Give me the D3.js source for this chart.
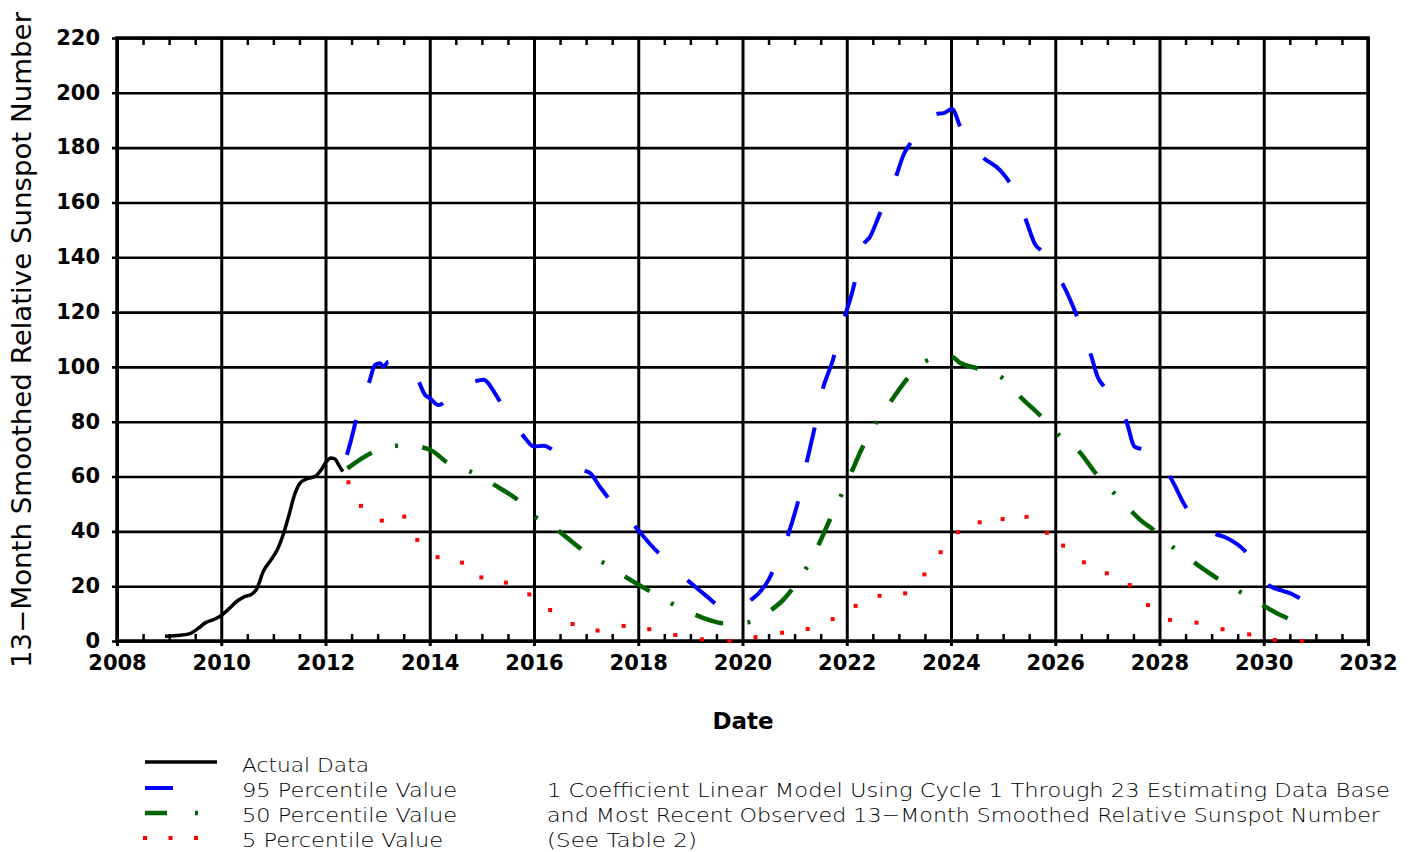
<!DOCTYPE html>
<html>
<head>
<meta charset="utf-8">
<script src="https://cdn.jsdelivr.net/npm/d3@7"></script>
<style>
  html, body { margin: 0; padding: 0; background: #ffffff; }
  svg { display: block; }
  .tick text { font-family: "DejaVu Sans", sans-serif; font-weight: bold; font-size: 21px; fill: #000; }
  .lg { font-family: "DejaVu Sans ExtraLight", "DejaVu Sans", sans-serif; font-weight: 200; font-size: 20px; fill: #000; }
</style>
</head>
<body>
<svg id="chart" width="1419" height="852"></svg>
<script>
// ---------------- data ----------------
const xTicks = [2008, 2010, 2012, 2014, 2016, 2018, 2020, 2022, 2024, 2026, 2028, 2030, 2032];
const yTicks = [0, 20, 40, 60, 80, 100, 120, 140, 160, 180, 200, 220];

// Actual Data (13-month smoothed)
const actualYears = [2008.92, 2009.15, 2009.40, 2009.55, 2009.70, 2009.85, 2010.00, 2010.15, 2010.30, 2010.45, 2010.58, 2010.68, 2010.81, 2010.95, 2011.08, 2011.20, 2011.30, 2011.40, 2011.52, 2011.65, 2011.80, 2011.92, 2012.02, 2012.10, 2012.18, 2012.26, 2012.33];
const actualValues = [1.7, 2.0, 2.7, 4.5, 6.7, 7.8, 9.3, 11.8, 14.5, 16.2, 17.0, 19.0, 25.5, 29.5, 33.5, 39.5, 46.0, 53.0, 57.8, 59.2, 60.0, 62.5, 65.5, 66.8, 66.4, 64.0, 61.8];

// 95 Percentile Value
const p95Years = [2012.41, 2012.50, 2012.59, 2012.70, 2012.84, 2012.95, 2013.05, 2013.11, 2013.21, 2013.45, 2013.60, 2013.74, 2013.91, 2014.00, 2014.17, 2014.45, 2014.71, 2014.84, 2015.03, 2015.26, 2015.45, 2015.66, 2015.85, 2015.99, 2016.18, 2016.45, 2016.78, 2016.95, 2017.08, 2017.27, 2017.50, 2017.75, 2017.94, 2018.23, 2018.50, 2018.75, 2019.05, 2019.31, 2019.65, 2020.01, 2020.15, 2020.31, 2020.50, 2020.65, 2020.81, 2021.03, 2021.12, 2021.20, 2021.36, 2021.44, 2021.51, 2021.74, 2021.84, 2021.94, 2022.14, 2022.22, 2022.31, 2022.45, 2022.64, 2022.80, 2022.94, 2023.09, 2023.22, 2023.45, 2023.72, 2023.86, 2024.02, 2024.18, 2024.40, 2024.61, 2024.94, 2025.12, 2025.28, 2025.43, 2025.62, 2025.75, 2025.95, 2026.14, 2026.43, 2026.56, 2026.69, 2026.81, 2026.97, 2027.17, 2027.37, 2027.52, 2027.70, 2027.95, 2028.19, 2028.50, 2028.75, 2029.02, 2029.30, 2029.63, 2029.85, 2030.06, 2030.38, 2030.51, 2030.69];
const p95Values = [67.9, 74.0, 80.9, 88.0, 94.6, 100.7, 101.3, 100.1, 101.9, 101.0, 99.5, 96.7, 89.8, 88.6, 86.1, 90.5, 93.8, 94.6, 95.3, 90.1, 84.0, 78.5, 73.5, 71.0, 71.2, 68.5, 65.4, 62.4, 61.2, 56.1, 50.5, 45.4, 41.7, 35.3, 30.0, 25.3, 20.5, 16.4, 12.0, 12.5, 14.8, 17.4, 22.3, 28.5, 35.4, 48.4, 55.0, 62.4, 75.8, 82.5, 89.5, 102.9, 110.0, 116.9, 129.9, 137.0, 143.9, 147.6, 156.1, 163.0, 169.2, 177.4, 181.6, 188.0, 192.3, 192.6, 194.1, 187.5, 181.0, 176.5, 171.8, 167.4, 161.0, 154.0, 144.5, 142.1, 136.0, 130.3, 117.8, 111.0, 104.0, 96.5, 92.0, 86.0, 79.8, 70.9, 69.7, 65.0, 60.2, 49.0, 43.0, 39.5, 37.5, 33.0, 27.0, 20.8, 18.2, 17.4, 15.6];

// 50 Percentile Value
const p50Years = [2012.42, 2012.91, 2013.15, 2013.35, 2013.60, 2013.85, 2014.07, 2014.33, 2014.55, 2014.78, 2015.00, 2015.21, 2015.67, 2015.85, 2016.02, 2016.25, 2016.46, 2016.90, 2017.10, 2017.32, 2017.52, 2017.73, 2018.22, 2018.43, 2018.63, 2018.85, 2019.08, 2019.32, 2019.62, 2019.85, 2020.10, 2020.33, 2020.55, 2020.79, 2020.94, 2021.08, 2021.22, 2021.45, 2021.68, 2021.79, 2021.89, 2022.09, 2022.32, 2022.44, 2022.56, 2022.70, 2022.84, 2023.17, 2023.35, 2023.53, 2023.77, 2024.00, 2024.18, 2024.50, 2024.73, 2024.97, 2025.14, 2025.31, 2025.72, 2025.88, 2026.05, 2026.25, 2026.44, 2026.79, 2026.95, 2027.12, 2027.30, 2027.47, 2027.63, 2027.90, 2028.08, 2028.26, 2028.46, 2028.66, 2029.13, 2029.34, 2029.54, 2029.76, 2029.98, 2030.25, 2030.46];
const p50Values = [63.0, 68.9, 70.5, 71.2, 71.3, 70.7, 69.1, 65.2, 63.3, 61.8, 59.8, 57.3, 51.7, 48.7, 45.4, 43.0, 40.3, 33.6, 31.0, 28.7, 26.3, 23.7, 18.2, 16.0, 13.8, 11.6, 9.7, 7.9, 6.5, 6.5, 6.8, 8.5, 11.3, 15.2, 18.6, 22.5, 26.5, 34.7, 44.4, 48.7, 53.0, 61.6, 71.3, 75.5, 79.7, 83.5, 87.3, 95.9, 99.5, 102.2, 103.5, 103.8, 101.4, 99.5, 98.0, 96.2, 93.0, 89.5, 82.1, 79.0, 75.5, 72.5, 69.5, 60.9, 57.5, 54.1, 50.6, 47.2, 44.2, 40.3, 37.2, 34.2, 31.4, 28.7, 22.6, 20.2, 18.0, 15.5, 13.1, 10.1, 8.3];

// 5 Percentile Value
const p5Years = [2012.44, 2012.68, 2013.08, 2013.51, 2013.76, 2014.15, 2014.62, 2014.99, 2015.46, 2015.91, 2016.31, 2016.74, 2017.22, 2017.72, 2018.21, 2018.71, 2019.22, 2019.75, 2020.25, 2020.76, 2021.25, 2021.73, 2022.17, 2022.63, 2023.12, 2023.49, 2023.80, 2024.13, 2024.55, 2024.99, 2025.45, 2025.84, 2026.15, 2026.55, 2026.99, 2027.43, 2027.78, 2028.20, 2028.71, 2029.21, 2029.72, 2030.21, 2030.73];
const p5Values = [57.9, 49.3, 43.9, 45.4, 36.9, 30.6, 28.6, 23.2, 21.3, 17.0, 11.3, 6.2, 3.8, 5.5, 4.3, 2.2, 0.6, 0.0, 1.4, 3.0, 4.4, 8.0, 12.8, 16.5, 17.4, 24.3, 32.4, 39.7, 43.3, 44.5, 45.3, 39.5, 34.8, 28.7, 24.7, 20.4, 13.1, 7.7, 6.7, 4.3, 2.4, 0.4, 0.0];

const legendLabels = ["Actual Data", "95 Percentile Value", "50 Percentile Value", "5 Percentile Value"];
const noteLines = [
  "1 Coefficient Linear Model Using Cycle 1 Through 23 Estimating Data Base",
  "and Most Recent Observed 13\u2212Month Smoothed Relative Sunspot Number",
  "(See Table 2)"
];
const yTitle = "13\u2212Month Smoothed Relative Sunspot Number";
const xTitle = "Date";

// ---------------- layout ----------------
const L = 117, R = 1368, T = 38, B = 641;
const svg = d3.select("#chart");
const x = d3.scaleLinear().domain([2008, 2032]).range([L, R]);
const y = d3.scaleLinear().domain([0, 220]).range([B, T]);

const minorYears = d3.range(2008, 2032.01, 0.5).filter(v => !xTicks.includes(v));

// vertical grid lines (extending slightly below the axis)
const gx = svg.append("g").attr("transform", `translate(0,${B + 5})`)
  .call(d3.axisBottom(x).tickValues(xTicks).tickSize(-(B - T + 5)).tickSizeOuter(0).tickFormat(""));
gx.select(".domain").remove();
gx.selectAll(".tick line").attr("stroke", "#000").attr("stroke-width", 3);

// horizontal grid lines (extending slightly left of the axis)
const gy = svg.append("g").attr("transform", `translate(${L - 5},0)`)
  .call(d3.axisLeft(y).tickValues(yTicks).tickSize(-(R - L + 5)).tickSizeOuter(0).tickFormat(""));
gy.select(".domain").remove();
gy.selectAll(".tick line").attr("stroke", "#000").attr("stroke-width", 2.6);

// minor ticks bottom & top
const mb = svg.append("g").attr("transform", `translate(0,${B})`)
  .call(d3.axisBottom(x).tickValues(minorYears).tickSize(-7).tickSizeOuter(0).tickFormat(""));
mb.select(".domain").remove();
mb.selectAll(".tick line").attr("stroke", "#000").attr("stroke-width", 2.5);
const mt = svg.append("g").attr("transform", `translate(0,${T})`)
  .call(d3.axisTop(x).tickValues(minorYears).tickSize(-7).tickSizeOuter(0).tickFormat(""));
mt.select(".domain").remove();
mt.selectAll(".tick line").attr("stroke", "#000").attr("stroke-width", 2.5);

// tick labels
const lx = svg.append("g").attr("transform", `translate(0,${B})`)
  .call(d3.axisBottom(x).tickValues(xTicks).tickSize(0).tickPadding(14).tickFormat(d3.format("d")));
lx.select(".domain").remove();
const ly = svg.append("g").attr("transform", `translate(${L},0)`)
  .call(d3.axisLeft(y).tickValues(yTicks).tickSize(0).tickPadding(17).tickFormat(d3.format("d")));
ly.select(".domain").remove();
ly.selectAll(".tick text").attr("dy", "0.30em");

// frame
svg.append("rect").attr("x", L).attr("y", T).attr("width", R - L).attr("height", B - T)
  .attr("fill", "none").attr("stroke", "#000").attr("stroke-width", 3.5);

// axis titles
svg.append("text").attr("transform", "translate(31,340) rotate(-90)")
  .attr("text-anchor", "middle")
  .attr("textLength", 656).attr("lengthAdjust", "spacingAndGlyphs")
  .style("font-family", "DejaVu Sans, sans-serif").style("font-size", "26px").style("font-weight", "normal")
  .text(yTitle);
svg.append("text").attr("x", 743).attr("y", 729).attr("text-anchor", "middle")
  .style("font-family", "DejaVu Sans, sans-serif").style("font-size", "23px").style("font-weight", "bold")
  .text(xTitle);

// ---------------- series ----------------
const line = d3.line().x(d => x(d[0])).y(d => y(d[1])).curve(d3.curveMonotoneX);
const zip = (a, b) => a.map((v, i) => [v, b[i]]);

// actual
svg.append("path").datum(zip(actualYears, actualValues)).attr("d", line)
  .attr("fill", "none").attr("stroke", "#000").attr("stroke-width", 3.5).attr("stroke-linejoin", "round");

// 95 percentile: long dashes
const p95 = svg.append("path").datum(zip(p95Years, p95Values)).attr("d", line)
  .attr("fill", "none").attr("stroke", "#0000ff").attr("stroke-width", 4);
{
  const len = p95.node().getTotalLength();
  const D = 36, P = (len - D) / 23;
  p95.attr("stroke-dasharray", `${D},${P - D}`);
}

// 50 percentile: dash-dot
const p50 = svg.append("path").datum(zip(p50Years, p50Values)).attr("d", line)
  .attr("fill", "none").attr("stroke", "#006400").attr("stroke-width", 4.5);
{
  const len = p50.node().getTotalLength();
  const D = 29, P = (len - D) / 15, g = (P - D - 3) / 2;
  p50.attr("stroke-dasharray", `${D},${g},3,${g}`);
}

// 5 percentile: dots
svg.append("g").selectAll("rect").data(zip(p5Years, p5Values)).join("rect")
  .attr("x", d => x(d[0]) - 2).attr("y", d => y(d[1]) - 2)
  .attr("width", 4).attr("height", 4).attr("fill", "#ff0000");

// ---------------- legend ----------------
const lgY = [762, 788, 813, 838];
const lgBase = [772, 797, 822, 847];
const lgX0 = 145, lgX1 = 217;
svg.append("line").attr("x1", lgX0).attr("x2", lgX1).attr("y1", lgY[0]).attr("y2", lgY[0])
  .attr("stroke", "#000").attr("stroke-width", 3.5);
svg.append("line").attr("x1", lgX0).attr("x2", lgX1).attr("y1", lgY[1]).attr("y2", lgY[1])
  .attr("stroke", "#0000ff").attr("stroke-width", 4).attr("stroke-dasharray", "28,200");
svg.append("line").attr("x1", lgX0).attr("x2", lgX1).attr("y1", lgY[2]).attr("y2", lgY[2])
  .attr("stroke", "#006400").attr("stroke-width", 4.5).attr("stroke-dasharray", "22,28,3,200");
svg.append("g").selectAll("rect").data([0, 1, 2]).join("rect")
  .attr("x", i => lgX0 + i * 25.5 - 2).attr("y", lgY[3] - 2).attr("width", 4).attr("height", 4).attr("fill", "#ff0000");

const lgWidths = [127, 215, 215, 201];
legendLabels.forEach((t, i) => {
  svg.append("text").attr("class", "lg").attr("x", 242).attr("y", lgBase[i])
    .attr("textLength", lgWidths[i]).attr("lengthAdjust", "spacingAndGlyphs").text(t);
});
const noteWidths = [843, 833, 150];
noteLines.forEach((t, i) => {
  svg.append("text").attr("class", "lg").attr("x", 547).attr("y", lgBase[i + 1])
    .attr("textLength", noteWidths[i]).attr("lengthAdjust", "spacingAndGlyphs").text(t);
});
</script>
</body>
</html>
